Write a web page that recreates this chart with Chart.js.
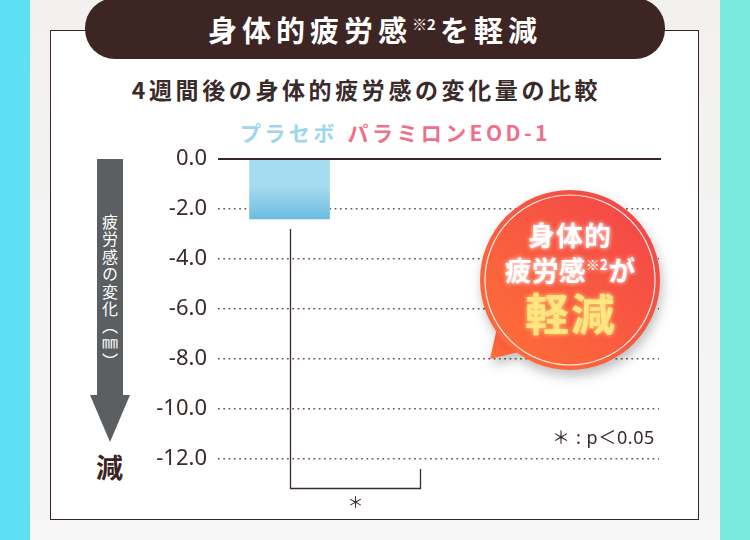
<!DOCTYPE html>
<html lang="ja">
<head>
  <meta charset="UTF-8">
  <title>身体的疲労感の変化量の比較</title>
  <script src="https://cdn.jsdelivr.net/npm/chart.js"></script>
  <style>
    body {
      margin: 0;
      width: 750px;
      height: 540px;
      overflow: hidden;
      position: relative;
      font-family: "Noto Sans CJK JP", "Noto Sans", sans-serif;
      background: linear-gradient(90deg, #5ddff3 0%, #6ee6ea 50%, #7ae9dd 100%);
    }
    .panel {
      position: absolute;
      left: 30px; top: 0;
      width: 690px; height: 540px;
      background: linear-gradient(180deg, #f2f1f0, #f6f6f6);
    }
    .frame {
      position: absolute;
      left: 50px; top: 30px;
      width: 647px; height: 488px;
      background: #fff;
      border: 1.5px solid #3a2424;
    }
    .pill {
      position: absolute;
      left: 85px; top: -2px;
      width: 580px; height: 61px;
      border-radius: 30px;
      background: #3d2524;
      color: #fff;
      font-weight: bold;
      font-size: 29px;
      letter-spacing: 5px;
      text-align: center;
      line-height: 63px;
    }
    .pill sup { font-size: 15px; letter-spacing: 0; vertical-align: 12px; line-height: 0; margin-right: 4px; }
    .subtitle {
      position: absolute;
      left: 0; width: 733px; top: 72px;
      text-align: center;
      font-size: 23px;
      font-weight: bold;
      letter-spacing: 3.6px;
      color: #3a2a2a;
    }
    .legend {
      position: absolute;
      left: 240px; top: 117px;
      font-size: 21px;
      font-weight: bold;
      letter-spacing: 3.4px;
      white-space: nowrap;
    }
    .legend .a { color: #9ed6ec; margin-right: 10px; }
    .legend .b { color: #f0708a; }
    #wrap { position: absolute; left: 0; top: 0; width: 750px; height: 540px; }
    .arrow { position: absolute; left: 0; top: 0; }
    .arrow-text {
      position: absolute;
      left: 101px; top: 214px;
      writing-mode: vertical-rl;
      color: #fff;
      font-size: 16px;
      letter-spacing: 1.4px;
      line-height: 18px;
    }
    .gen {
      position: absolute;
      left: 96px; top: 447px;
      font-size: 27px;
      font-weight: bold;
      color: #3a2424;
    }
    .note {
      position: absolute;
      right: 95px; top: 423px;
      font-family: "Noto Sans", "Noto Sans CJK JP", sans-serif;
      font-size: 18px;
      letter-spacing: 0.6px;
      color: #3a2a2a;
    }
    .bubble { position: absolute; left: 460px; top: 175px; filter: drop-shadow(2px 6px 6px rgba(0,0,0,0.25)); }
  </style>
</head>
<body>
  <div class="panel"></div>
  <div class="frame"></div>
  <div class="pill">身体的疲労感<sup>※2</sup>を軽減</div>
  <div class="subtitle">4週間後の身体的疲労感の変化量の比較</div>
  <div class="legend"><span class="a" id="lgA"></span><span class="b" id="lgB"></span></div>

  <svg class="arrow" width="150" height="480">
    <polygon points="97,159 123,159 123,395 130,395 110,442 90,395 97,395" fill="#5c5f62"/>
  </svg>
  <div class="arrow-text">疲労感の変化（㎜）</div>
  <div class="gen">減</div>

  <div id="wrap"><canvas id="fatigueChart"></canvas></div>

  <div class="note">＊ : p＜0.05</div>

  <svg class="bubble" width="230" height="220" viewBox="460 175 230 220">
    <defs>
      <linearGradient id="bg" x1="0" y1="1" x2="1" y2="0">
        <stop offset="0" stop-color="#ff7236"/>
        <stop offset="1" stop-color="#f2424a"/>
      </linearGradient>
      <filter id="glow" x="-20%" y="-20%" width="140%" height="140%">
        <feGaussianBlur stdDeviation="2" result="b"/>
        <feMerge><feMergeNode in="b"/><feMergeNode in="SourceGraphic"/></feMerge>
      </filter>
    </defs>
    <polygon points="497,328 490,359 527,350" fill="url(#bg)"/>
    <circle cx="570" cy="280" r="90" fill="url(#bg)"/>
    <circle cx="570" cy="280" r="85" fill="none" stroke="#fff" stroke-width="1.2" opacity="0.9"/>
    <g font-family="Noto Sans CJK JP" font-weight="bold" text-anchor="middle" filter="url(#glow)">
      <text x="570" y="246" font-size="27" fill="#fff" letter-spacing="1">身体的</text>
      <text x="570" y="281" font-size="27" fill="#fff">疲労感<tspan font-size="14" dy="-11">※2</tspan><tspan dy="11">が</tspan></text>
      <text x="571" y="331" font-size="44" fill="#ffe680" letter-spacing="2">軽減</text>
    </g>
  </svg>

  <script>
    // データ
    var categories = ['プラセボ', 'パラミロンEOD-1'];
    var changeValues = [-2.4, 0];        // EOD-1 の棒は元画像では描かれていない
    var yTickValues = [0, -2, -4, -6, -8, -10, -12];
    var bracketTops = [-2.8, -12.4];     // 有意差ブラケットの上端
    var bracketBottom = -13.15;
    var sigMark = '＊';

    document.getElementById('lgA').textContent = categories[0];
    document.getElementById('lgB').textContent = categories[1];

    var barColors = [['#a6dcf0', '#6bbce0'], ['#f7a0b0', '#ee6f85']];

    var overlay = {
      id: 'overlay',
      afterDatasetsDraw: function(chart) {
        var ctx = chart.ctx, area = chart.chartArea;
        var xs = chart.scales.x, ys = chart.scales.y;
        ctx.save();
        // 0 の基準線
        var y0 = ys.getPixelForValue(0);
        ctx.strokeStyle = '#3a2424';
        ctx.lineWidth = 2;
        ctx.beginPath();
        ctx.moveTo(area.left, y0);
        ctx.lineTo(area.right + 2, y0);
        ctx.stroke();
        // 有意差ブラケット
        var xa = Math.round(xs.getPixelForValue(0)) + 0.5;
        var xb = Math.round(xs.getPixelForValue(1)) + 0.5;
        var yb = Math.round(ys.getPixelForValue(bracketBottom)) + 0.5;
        ctx.lineWidth = 1.3;
        ctx.strokeStyle = '#3a2a2a';
        ctx.beginPath();
        ctx.moveTo(xa, ys.getPixelForValue(bracketTops[0]));
        ctx.lineTo(xa, yb);
        ctx.lineTo(xb, yb);
        ctx.lineTo(xb, ys.getPixelForValue(bracketTops[1]));
        ctx.stroke();
        ctx.fillStyle = '#3a2a2a';
        ctx.font = '16px "Noto Sans CJK JP"';
        ctx.textAlign = 'center';
        ctx.textBaseline = 'middle';
        ctx.fillText(sigMark, (xa + xb) / 2, yb + 13);
        ctx.restore();
      }
    };

    var chartCtx = document.getElementById('fatigueChart').getContext('2d');
    var fatigueChart = new Chart(chartCtx, {
      type: 'bar',
      data: {
        datasets: [{
          label: '身体的疲労感の変化量',
          data: categories.map(function(c, i) { return { x: i, y: changeValues[i] }; }),
          barThickness: 80,
          borderWidth: 0,
          backgroundColor: function(c) {
            var chart = c.chart;
            if (!chart.chartArea || c.dataIndex === undefined) return '#6bbce0';
            var ys = chart.scales.y;
            var top = ys.getPixelForValue(0);
            var bottom = ys.getPixelForValue(Math.min(changeValues[c.dataIndex], -0.1));
            var g = chart.ctx.createLinearGradient(0, top, 0, bottom);
            var cols = barColors[c.dataIndex];
            g.addColorStop(0, cols[0]);
            g.addColorStop(0.45, cols[0]);
            g.addColorStop(1, cols[1]);
            return g;
          }
        }]
      },
      options: {
        responsive: true,
        maintainAspectRatio: false,
        animation: false,
        layout: { padding: { top: 159, bottom: 81, right: 91, left: 0 } },
        plugins: { legend: { display: false }, tooltip: { enabled: false } },
        scales: {
          x: {
            type: 'linear',
            display: false,
            offset: false,
            grid: { offset: false },
            min: -0.55,
            max: 2.84
          },
          y: {
            min: -12,
            max: 0,
            afterFit: function(scale) { scale.width = 218; },
            afterBuildTicks: function(scale) {
              scale.ticks = yTickValues.map(function(v) { return { value: v }; });
            },
            ticks: {
              padding: 11,
              color: '#3a2a2a',
              font: { family: 'Noto Sans', size: 22 },
              callback: function(v) { return Number(v).toFixed(1); }
            },
            grid: {
              drawTicks: false,
              lineWidth: 1.6,
              color: function(c) { return c.tick && c.tick.value === 0 ? 'rgba(0,0,0,0)' : '#6b5b5b'; }
            },
            border: { display: false, dash: [1.8, 3.5] }
          }
        }
      },
      plugins: [overlay]
    });
  </script>
</body>
</html>
